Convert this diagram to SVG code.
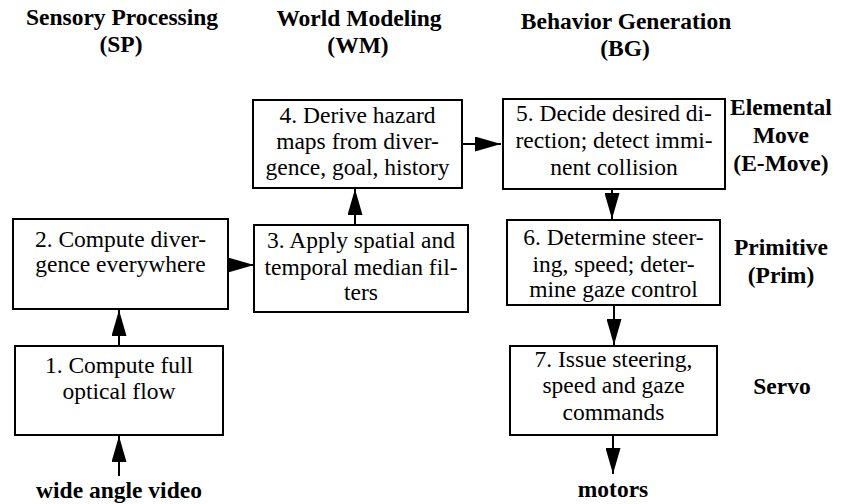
<svg xmlns="http://www.w3.org/2000/svg" width="842" height="504" viewBox="0 0 842 504">
<style>
text{font-family:"Liberation Serif","Times New Roman",serif;font-size:23.5px;fill:#000;text-anchor:middle}
.b{font-weight:bold}
rect{fill:#fff;stroke:#000;stroke-width:2}
.c line{stroke:#000;stroke-width:2}
</style>
<defs>
<marker id="ah" markerUnits="userSpaceOnUse" markerWidth="26" markerHeight="15" refX="26" refY="7.5" orient="auto">
<path d="M0,0 L26,7.5 L0,15 z" fill="#000"/>
</marker>
</defs>
<rect width="842" height="504" style="stroke:none"/>
<g id="headers">
<text class="b" x="122" y="25">Sensory Processing</text>
<text class="b" x="121" y="52">(SP)</text>
<text class="b" x="359" y="26">World Modeling</text>
<text class="b" x="358" y="53">(WM)</text>
<text class="b" x="626" y="29">Behavior Generation</text>
<text class="b" x="625" y="56">(BG)</text>
</g>
<g id="levels">
<text class="b" x="781" y="115">Elemental</text>
<text class="b" x="781" y="143">Move</text>
<text class="b" x="781" y="171">(E-Move)</text>
<text class="b" x="781" y="255">Primitive</text>
<text class="b" x="781" y="283">(Prim)</text>
<text class="b" x="782" y="394">Servo</text>
</g>
<g id="io">
<text class="b" x="119" y="498">wide angle video</text>
<text class="b" x="613" y="497">motors</text>
</g>
<g class="c" id="connectors">
<line x1="119" y1="476" x2="119" y2="436" marker-end="url(#ah)"/>
<line x1="119" y1="346" x2="119" y2="310" marker-end="url(#ah)"/>
<line x1="228" y1="265" x2="254" y2="265" marker-end="url(#ah)"/>
<line x1="355" y1="225" x2="355" y2="189" marker-end="url(#ah)"/>
<line x1="462" y1="144" x2="501" y2="144" marker-end="url(#ah)"/>
<line x1="612" y1="189" x2="612" y2="219" marker-end="url(#ah)"/>
<line x1="614" y1="305" x2="614" y2="345" marker-end="url(#ah)"/>
<line x1="613" y1="435" x2="613" y2="474" marker-end="url(#ah)"/>
</g>
<g id="n1">
<rect x="15" y="346" width="208" height="89"/>
<text x="119" y="373">1. Compute full</text>
<text x="119" y="399">optical flow</text>
</g>
<g id="n2">
<rect x="13" y="219" width="215" height="90"/>
<text x="120.5" y="247">2. Compute diver-</text>
<text x="120.5" y="272">gence everywhere</text>
</g>
<g id="n3">
<rect x="254" y="225" width="214" height="87"/>
<text x="361" y="248">3. Apply spatial and</text>
<text x="361" y="275">temporal median fil-</text>
<text x="361" y="300">ters</text>
</g>
<g id="n4">
<rect x="253" y="100" width="209" height="88"/>
<text x="357.5" y="123">4. Derive hazard</text>
<text x="357.5" y="149">maps from diver-</text>
<text x="357.5" y="175">gence, goal, history</text>
</g>
<g id="n5">
<rect x="503" y="99" width="222" height="90"/>
<text x="614" y="121">5. Decide desired di-</text>
<text x="614" y="148">rection; detect immi-</text>
<text x="614" y="175">nent collision</text>
</g>
<g id="n6">
<rect x="507" y="220" width="213" height="85"/>
<text x="613.5" y="245">6. Determine steer-</text>
<text x="613.5" y="272">ing, speed; deter-</text>
<text x="613.5" y="297">mine gaze control</text>
</g>
<g id="n7">
<rect x="510" y="346" width="207" height="89"/>
<text x="613.5" y="367">7. Issue steering,</text>
<text x="613.5" y="393">speed and gaze</text>
<text x="613.5" y="420">commands</text>
</g>
</svg>
